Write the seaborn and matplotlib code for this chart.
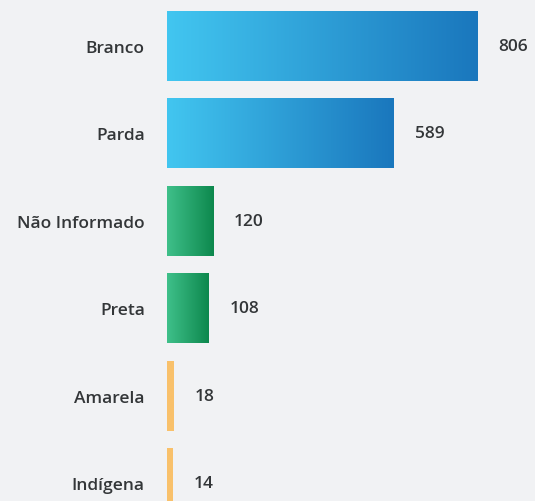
import numpy as np
import pandas as pd
import matplotlib.pyplot as plt
import seaborn as sns
from matplotlib.colors import LinearSegmentedColormap

categories = ['Branco', 'Parda', 'Não Informado', 'Preta', 'Amarela', 'Indígena']
values = [806, 589, 120, 108, 18, 14]
groups = ['blue', 'blue', 'green', 'green', 'orange', 'orange']

gradients = {
    'blue': ('#42c6f0', '#1a77bd'),
    'green': ('#3fc08a', '#0d884d'),
    'orange': ('#f9c16b', '#f9c16b'),
}

bg = '#f1f2f4'
text_color = '#333638'

df = pd.DataFrame({'categoria': categories, 'total': values, 'grupo': groups})

sns.set_style('white')
plt.rcParams['font.family'] = ['Open Sans', 'DejaVu Sans']

fig = plt.figure(figsize=(5.35, 5.02), dpi=100, facecolor=bg)
ax = fig.add_axes([167 / 535, 0, 1 - 167 / 535, 1])
ax.set_facecolor(bg)

sns.barplot(data=df, x='total', y='categoria', hue='grupo', dodge=False,
            palette={g: c[1] for g, c in gradients.items()},
            width=0.8, legend=False, ax=ax)

# gradient fill for each bar
for patch in ax.patches:
    w = patch.get_width()
    if w <= 0:
        continue
    x0, y0 = patch.get_x(), patch.get_y()
    h = patch.get_height()
    idx = int(round(y0 + h / 2))
    c0, c1 = gradients[groups[idx]]
    cmap = LinearSegmentedColormap.from_list('g', [c0, c1])
    grad = np.linspace(0, 1, 256).reshape(1, -1)
    im = ax.imshow(grad, cmap=cmap, aspect='auto', extent=(x0, x0 + w, y0 + h, y0),
                   zorder=patch.get_zorder() + 0.1)
    im.set_clip_path(patch)
    patch.set_edgecolor('none')

for i, v in enumerate(values):
    ax.text(v + 54, i, str(v), va='center', ha='left', fontsize=12.5,
            color=text_color, fontweight='semibold')

ax.set_xlim(0, 955)
ax.set_ylim(5.200, -0.537)
ax.set_xlabel('')
ax.set_ylabel('')
ax.set_xticks([])
ax.tick_params(axis='y', length=0, pad=16, labelsize=12.5, labelcolor=text_color)
for lbl in ax.get_yticklabels():
    lbl.set_fontweight('semibold')
sns.despine(ax=ax, left=True, bottom=True)

fig.savefig('out.png', dpi=100, facecolor=bg)
